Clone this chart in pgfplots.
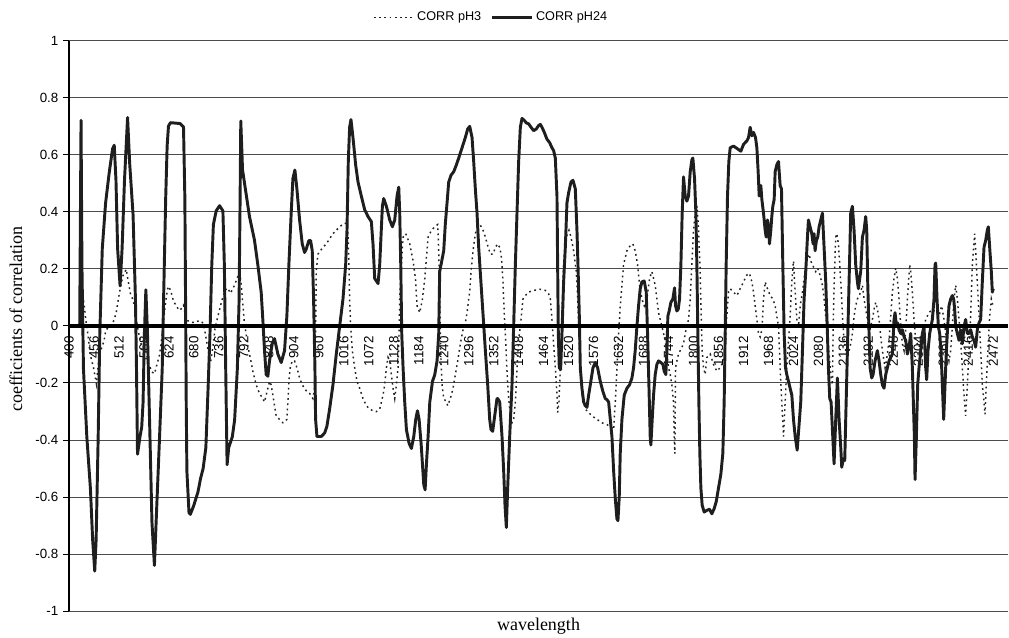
\documentclass[border=0pt]{standalone}
\usepackage{pgfplots}
\pgfplotsset{compat=1.18}
\usepackage{fontspec}
\setmainfont{Liberation Sans}
\newfontfamily\timesfont{Liberation Serif}
\definecolor{solidc}{HTML}{1E1E1E}
\definecolor{dotc}{HTML}{222222}
\begin{document}
\begin{tikzpicture}
\begin{axis}[
  scale only axis, width=704.25pt, height=427.9pt,
  xmin=400, xmax=2505, ymin=-1, ymax=1,
  axis x line*=middle, axis y line*=left,
  hide obscured x ticks=false,
  every axis x label/.style={at={(axis description cs:0.5,0)}, anchor=center, yshift=-11.5pt},
  every axis y label/.style={at={(axis description cs:0,0.5)}, xshift=-39.75pt, yshift=5pt, rotate=90, anchor=center},
  xlabel={wavelength}, ylabel={coefficients of correlation},
  label style={font=\timesfont\fontsize{13.5}{16}\selectfont},
  xtick={400,456,512,568,624,680,736,792,848,904,960,1016,1072,1128,1184,1240,1296,1352,1408,1464,1520,1576,1632,1688,1744,1800,1856,1912,1968,2024,2080,2136,2192,2248,2304,2360,2416,2472},
  xtick style={draw=none},
  x tick label style={rotate=90, anchor=east, font=\fontsize{10}{12}\selectfont},
  ytick={-1,-0.8,-0.6,-0.4,-0.2,0,0.2,0.4,0.6,0.8,1},
  y tick label style={font=\fontsize{10}{12}\selectfont},
  /pgf/number format/assume math mode=true,
  /pgf/number format/1000 sep={},
  tick align=outside, major tick length=4.5pt,
  ytick style={black, line width=0.6pt},
  ymajorgrids, grid style={black!70, line width=0.6pt},
  axis line style={black, line width=0.9pt},
  legend style={at={(0.45,1)}, anchor=south, yshift=9pt, draw=none, fill=none,
    legend columns=2, font=\fontsize{9.5}{11}\selectfont,
    /tikz/every even column/.append style={column sep=5pt}},
  legend image code/.code={\draw[#1] (0cm,0cm) -- (1.05cm,0cm);},
]
\coordinate (bl) at (axis description cs:0,0);
\coordinate (tr) at (axis description cs:1,1);
\addplot[dotc, line width=1.1pt, dash pattern=on 1.3pt off 2.6pt] coordinates {
(400,0)(422,0)(432.4,0.09)(434.7,0.066)(437.8,0.018)(442.4,-0.03)(447.7,-0.102)(455.4,-0.15)(461.5,-0.204)(466.9,-0.114)(473,-0.078)(478.4,-0.054)(482.2,-0.018)(489.9,0)(497.6,0.006)(505.3,0.042)(512.9,0.114)(520.6,0.174)(528.3,0.198)(532.1,0.162)(537.5,0.114)(543.6,0.09)(547.4,0.066)(551.3,0.018)(555.1,-0.018)(560.5,-0.054)(564.6,-0.09)(572.3,-0.114)(580,-0.138)(586.1,-0.162)(591.5,-0.168)(596.8,-0.138)(603,-0.102)(609.1,-0.03)(612.2,0.018)(615.3,0.066)(618.3,0.102)(622.2,0.138)(627.5,0.126)(633.7,0.09)(641.3,0.066)(649,0.054)(656.7,0.072)(660.5,0.042)(665.9,0.018)(675.9,0.012)(683.5,0.012)(691.2,0.018)(698.9,0.012)(700.7,0.006)(704.5,-0.018)(708.4,-0.054)(712.2,-0.09)(717.6,-0.126)(722.2,-0.078)(727.6,-0.006)(735.2,0.042)(742.9,0.09)(750.6,0.126)(755.9,0.132)(762.1,0.114)(769.7,0.138)(775.9,0.162)(781.3,0.186)(785.1,0.162)(792.8,0.018)(800.4,-0.066)(808.1,-0.126)
(812.1,-0.159)(819.6,-0.207)(827,-0.237)(834.5,-0.255)(838.3,-0.267)(842,-0.243)(845.8,-0.219)(849.5,-0.195)(853.2,-0.207)(857,-0.243)(860.7,-0.28)(864.5,-0.316)(872,-0.328)(879.4,-0.34)(885.4,-0.334)(888.4,-0.328)(890.7,-0.267)(892.9,-0.195)(895.9,-0.147)(900.4,-0.123)(905.6,-0.123)(910.9,-0.147)(916.9,-0.183)(922.9,-0.207)(928.1,-0.219)(933.3,-0.231)(939.3,-0.237)(946.8,-0.255)(950.5,-0.219)(952.8,-0.027)(954.3,0.19)(958,0.251)(963.3,0.263)(969.3,0.275)(976.7,0.287)(984.2,0.305)(991.7,0.323)(999.2,0.335)(1006.7,0.347)(1016.4,0.359)(1021.7,0.359)(1025.4,0.323)(1027.6,0.214)(1029.1,0.094)(1031.4,-0.002)(1035.1,-0.087)(1040.4,-0.147)(1045.6,-0.195)(1051.6,-0.219)(1059.1,-0.255)(1066.6,-0.28)(1074,-0.292)(1081.5,-0.298)(1089,-0.301)(1096.5,-0.292)(1104,-0.243)(1107.7,-0.207)(1111.5,-0.147)(1115.2,-0.111)(1119,-0.123)(1122.7,-0.171)(1126.4,-0.219)(1130.2,-0.255)(1133.9,-0.207)(1137.7,-0.147)(1139.9,-0.027)(1141.4,0.094)(1145.2,0.214)(1148.9,0.311)(1154.9,0.323)(1163.9,0.287)(1171.4,0.227)(1176.6,0.166)(1180.3,0.07)(1186.3,0.046)(1192.3,0.094)(1197.6,0.166)(1201.3,0.239)(1205,0.311)(1212.5,0.335)(1220,0.347)(1226.6,0.355)
(1228.8,0.263)(1231,0.094)(1232.5,-0.027)(1234,-0.123)(1236.3,-0.207)(1240,-0.255)(1246,-0.267)(1249,-0.28)(1254.9,-0.255)(1260.9,-0.219)(1266.1,-0.171)(1271.4,-0.123)(1277.3,-0.063)(1283.3,-0.014)(1288.5,0.01)(1292.3,0.046)(1296,0.094)(1298.3,0.118)(1301.2,0.19)(1305.7,0.263)(1310.9,0.323)(1316.2,0.347)(1322.1,0.353)(1328.1,0.335)(1333.4,0.311)(1338.6,0.281)(1344.6,0.251)(1350.5,0.251)(1355.8,0.275)(1361,0.287)(1365.5,0.275)(1368.5,0.251)(1370.7,0.214)(1372.9,0.154)(1374.4,0.094)(1375.9,0.034)(1378.2,-0.027)(1380.4,-0.111)(1383.4,-0.207)(1386.4,-0.267)(1389.4,-0.316)(1393.1,-0.34)(1396.8,-0.328)(1400.6,-0.267)(1404.3,-0.147)(1408,-0.051)(1413.3,0.022)(1417.7,0.094)(1423,0.106)(1430.4,0.118)(1441.6,0.124)(1456.6,0.128)(1467.8,0.124)(1475.2,0.112)(1479,0.094)(1482.7,0.022)(1486.4,-0.063)(1490.2,-0.147)(1493.9,-0.243)(1495.4,-0.304)(1498.4,-0.267)(1501.4,-0.147)(1505.1,0.034)(1508.8,0.214)(1514.8,0.311)(1520.8,0.335)(1525.3,0.311)(1531.2,0.263)(1537.2,0.19)(1540.2,0.094)(1543.2,-0.027)(1546.2,-0.147)(1550.7,-0.243)(1557.4,-0.292)(1564.9,-0.304)(1572.3,-0.316)(1583.5,-0.328)(1594.7,-0.34)(1605.9,-0.346)(1617.1,-0.358)(1620.9,-0.364)(1624.6,-0.267)(1628.3,-0.147)(1632.1,-0.027)(1635.8,0.07)(1639.5,0.142)
(1643.2,0.214)(1650.7,0.263)(1658.1,0.281)(1664.1,0.287)(1669.3,0.263)(1674.6,0.214)(1679,0.142)(1684.3,0.094)(1689.5,0.07)(1695.5,0.094)(1701.5,0.166)(1706.7,0.19)(1710.4,0.166)(1714.1,0.142)(1717.9,0.094)(1721.6,0.046)(1725.4,0.022)(1729.1,-0.002)(1732.8,-0.027)(1736.6,-0.051)(1740.3,-0.099)(1744,-0.147)(1747.8,-0.171)(1751.5,-0.207)(1755.2,-0.267)(1756.7,-0.388)(1758.2,-0.448)(1759.7,-0.147)(1762.7,-0.123)(1766.4,-0.099)(1770.2,-0.087)(1773.9,-0.075)(1777.6,-0.063)(1781.4,-0.027)(1785.1,-0.002)(1788.8,0.022)(1792.6,0.094)(1796.3,0.214)(1800,0.335)(1803.8,0.395)(1808.2,0.419)(1811.2,0.335)(1815,0.19)(1817.2,0.034)(1819.4,-0.087)(1822.4,-0.147)(1826.2,-0.171)(1829.9,-0.111)(1837.4,-0.099)(1844.8,-0.135)(1852.3,-0.159)(1859.8,-0.147)(1867.2,-0.123)(1871,-0.087)(1874.7,0.034)(1878.4,0.118)(1882.2,0.13)(1889.6,0.118)(1897.1,0.106)(1904.6,0.13)(1912.1,0.154)(1919.5,0.178)(1925.5,0.184)(1930.8,0.154)(1934.5,0.118)(1938.2,0.07)(1942,0.022)(1945.7,-0.027)(1949.4,-0.039)(1953.2,-0.014)(1956.9,0.094)(1960.6,0.154)(1965.8,0.13)(1971.8,0.106)(1977.8,0.094)(1983,0.07)(1986.7,0.034)(1990.5,-0.002)(1994.2,-0.147)(1997.9,-0.267)(2001.7,-0.388)(2005.4,-0.267)(2009.1,-0.147)(2012.9,-0.051)(2016.6,0.034)(2020.4,0.154)(2024.1,0.227)(2027.9,0.118)(2031.6,0.022)(2035.4,-0.002)(2039.1,0.07)
(2044.2,0.118)(2047.9,0.166)(2051.6,0.214)(2055.4,0.239)(2059.1,0.251)(2062.8,0.227)(2066.6,0.214)(2070.3,0.202)(2074,0.19)(2077.8,0.202)(2081.5,0.19)(2085.2,0.166)(2089,0.142)(2092.7,0.094)(2096.4,0.034)(2100.2,-0.027)(2103.9,-0.099)(2107.6,-0.171)(2111.4,-0.207)(2112.9,-0.027)(2114.4,0.094)(2116.6,0.214)(2118.8,0.311)(2121.1,0.323)(2124.8,0.287)(2127.8,0.214)(2130,0.154)(2132.3,0.094)(2134.5,0.022)(2137.5,-0.051)(2141.2,-0.087)(2145,-0.111)(2148.7,-0.087)(2152.4,-0.063)(2156.2,-0.027)(2159.9,0.034)(2163.6,0.07)(2167.4,0.094)(2171.1,0.106)(2174.8,0.118)(2178.6,0.142)(2182.3,0.094)(2186,0.058)(2189.8,0.022)(2193.5,-0.027)(2197.2,-0.002)(2201,0.022)(2204.7,0.058)(2208.4,0.082)(2212.2,0.058)(2215.9,0.022)(2219.7,-0.039)(2223.4,-0.087)(2227.1,-0.123)(2229.4,-0.147)(2232.3,-0.123)(2234.6,-0.099)(2238.3,-0.051)(2242.1,0.034)(2245.8,0.118)(2249.5,0.166)(2253.3,0.202)(2257,0.166)(2260.7,0.094)(2264.5,-0.002)(2268.2,-0.063)(2272,-0.087)(2275.7,-0.014)(2279.4,0.094)(2284.6,0.214)(2286.9,0.19)(2290.6,0.118)(2294.3,0.022)(2298.1,-0.051)(2305.5,-0.075)(2313,-0.027)(2320.5,0.022)(2328,0.046)(2335.4,0.058)(2342.9,0.046)(2350.3,0.034)(2356.3,0.07)(2361.5,0.022)(2365.3,-0.027)(2369,-0.087)(2372.7,-0.123)(2376.5,-0.087)(2380.2,-0.002)(2383.9,0.094)(2387.7,0.142)(2391.4,0.094)(2395.2,0.022)(2398.9,-0.051)(2402.6,-0.147)(2406.4,-0.243)(2410.1,-0.316)(2413.8,-0.207)(2417.6,-0.087)(2421.3,0.034)(2425,0.214)(2430.3,0.323)(2432.5,0.263)(2436.2,0.154)(2440,0.034)(2443.7,-0.087)(2447.4,-0.207)(2451.2,-0.267)(2453.4,-0.31)(2456.4,-0.207)(2460.1,-0.087)(2463.9,0.034)(2467.6,0.094)(2471.3,0.07)
};
\addlegendentry{CORR pH3}
\addplot[solidc, line width=2.2pt, line join=round] coordinates {
(400,0)(424,0)(427,0.72)(429,0.21)(432.4,-0.15)(440,-0.39)(448,-0.57)(453,-0.75)(457.7,-0.86)(460.8,-0.75)(465.4,-0.39)(469,-0.03)(474.6,0.27)(482,0.43)(490,0.535)(497.6,0.62)(501.4,0.633)(505.3,0.51)(509,0.27)(514.5,0.14)(519,0.27)(524.4,0.51)(531.3,0.73)(536,0.57)(543.6,0.39)(549,0.09)(551.3,-0.15)(553.6,-0.45)(559,-0.39)(563,-0.355)(566,-0.27)(569,-0.03)(572.3,0.126)(576,-0.03)(581.5,-0.39)(586,-0.69)(591.5,-0.84)(596.8,-0.63)(603,-0.39)(609,-0.15)(612,0.09)(616.8,0.45)(620,0.63)(623,0.70)(627.5,0.712)(649,0.709)(656.7,0.697)(659.7,0.45)(661.3,0.09)(662.8,-0.27)(664.3,-0.51)(669,-0.655)(672,-0.661)(679.7,-0.63)(689,-0.583)(695,-0.535)(700.7,-0.50)(706.8,-0.427)(712,-0.21)(716,-0.03)(720,0.21)(723.7,0.355)(730,0.403)(737.5,0.421)(745,0.403)(748.3,0.21)(751.3,-0.15)(754.4,-0.487)(758,-0.427)(766,-0.39)(771.3,-0.33)(777.4,-0.15)(781.3,0.09)(783.6,0.45)(785.1,0.718)(789,0.547)(800.4,0.427)
(804.6,0.383)(815.8,0.30)(823.3,0.214)(830.8,0.118)(834.5,0.022)(838.3,-0.087)(842,-0.171)(845.8,-0.177)(849.5,-0.123)(855.5,-0.063)(860.7,-0.045)(868.2,-0.099)(875.7,-0.129)(883.2,-0.087)(888.4,0.034)(892.9,0.214)(898.1,0.395)(901.9,0.516)(906.4,0.546)(910.9,0.48)(916.9,0.371)(922.9,0.287)(928.1,0.257)(931.8,0.269)(937.8,0.299)(941.6,0.299)(945.3,0.263)(948.3,0.094)(951.3,-0.147)(952.8,-0.328)(955.8,-0.388)(965.5,-0.388)(973,-0.376)(978.2,-0.352)(984.2,-0.292)(991.7,-0.207)(999.2,-0.099)(1006.7,-0.002)(1014.2,0.094)(1020.2,0.214)(1023.2,0.335)(1026.1,0.576)(1029.1,0.696)(1032.1,0.723)(1036.6,0.66)(1042.6,0.564)(1047.9,0.504)(1055.3,0.455)(1062.8,0.407)(1070.3,0.383)(1077.8,0.365)(1081.5,0.287)(1085.3,0.166)(1092.8,0.148)(1096.5,0.214)(1102.5,0.419)(1105.5,0.446)(1111.5,0.419)(1119,0.371)(1125,0.347)(1130.2,0.371)(1135.4,0.455)(1139.2,0.486)(1141.4,0.395)(1143.7,0.214)(1145.9,-0.027)(1148.9,-0.147)(1152.6,-0.267)(1156.4,-0.364)(1162.4,-0.412)(1167.6,-0.43)(1172.9,-0.388)(1177.3,-0.328)(1181.1,-0.298)(1184.8,-0.328)(1189.3,-0.412)(1192.3,-0.484)(1195.3,-0.557)(1198.3,-0.575)(1201.3,-0.484)(1205,-0.388)(1208.8,-0.267)(1214.8,-0.195)(1220,-0.171)
(1225.1,-0.123)(1228.8,-0.027)(1231,0.19)(1234,0.214)(1240,0.263)(1243.7,0.359)(1247.5,0.431)(1251.2,0.504)(1256.4,0.528)(1262.4,0.54)(1268.4,0.564)(1273.6,0.588)(1281.1,0.624)(1288.5,0.66)(1293.8,0.69)(1298.3,0.699)(1303.5,0.66)(1307.2,0.576)(1310.9,0.48)(1314.7,0.395)(1318.4,0.275)(1325.9,0.094)(1333.4,-0.087)(1338.6,-0.207)(1343.1,-0.328)(1346,-0.364)(1349.8,-0.37)(1354.3,-0.316)(1359.5,-0.255)(1361,-0.255)(1365.5,-0.267)(1370.7,-0.388)(1374.4,-0.508)(1377.4,-0.629)(1380.4,-0.707)(1383.4,-0.569)(1387.9,-0.388)(1393.1,-0.207)(1396.8,-0.002)(1400.6,0.214)(1404.3,0.395)(1408,0.576)(1411.8,0.696)(1415.5,0.727)(1420.7,0.72)(1425.2,0.711)(1430.4,0.708)(1435.7,0.696)(1441.6,0.684)(1447.6,0.69)(1452.8,0.702)(1456.6,0.706)(1460.3,0.696)(1465.5,0.678)(1471.5,0.654)(1477.5,0.642)(1482.7,0.624)(1486.4,0.614)(1490.2,0.588)(1493.9,0.455)(1495.4,0.214)(1496.9,-0.027)(1499.1,-0.147)(1502.1,-0.153)(1505.1,-0.027)(1508.8,0.154)(1512.6,0.275)(1516.3,0.431)(1520.1,0.467)(1525.3,0.504)(1529.8,0.51)(1535,0.48)(1538.7,0.335)(1541,0.214)(1544,0.034)(1546.2,-0.147)(1549.9,-0.219)(1553.7,-0.267)(1557.4,-0.28)(1561.1,-0.286)(1564.9,-0.243)(1568.6,-0.207)(1574.6,-0.147)(1579.8,-0.129)(1585,-0.147)(1591,-0.195)(1597,-0.231)(1602.2,-0.255)(1605.9,-0.259)(1609.7,-0.267)(1613.4,-0.328)(1617.1,-0.388)(1620.9,-0.508)(1624.6,-0.605)(1628.3,-0.677)(1630.6,-0.683)(1633.5,-0.6)
(1635.7,-0.448)(1639.5,-0.328)(1644.7,-0.243)(1650.7,-0.219)(1656.6,-0.207)(1661.9,-0.183)(1665.6,-0.147)(1669.3,-0.087)(1673.1,-0.002)(1676.8,0.07)(1680.5,0.13)(1684.3,0.154)(1689.5,0.157)(1694,0.118)(1697,-0.027)(1700,-0.207)(1702.9,-0.388)(1704.4,-0.418)(1707.4,-0.328)(1710.4,-0.243)(1714.1,-0.171)(1717.9,-0.135)(1721.6,-0.123)(1726.8,-0.129)(1731.3,-0.135)(1734.3,-0.159)(1738,-0.171)(1740.3,-0.087)(1742.5,0.034)(1745.5,0.052)(1749.2,0.082)(1753.7,0.094)(1757.5,0.133)(1759.7,0.07)(1762.7,0.052)(1765.7,0.058)(1768.7,0.094)(1771.7,0.214)(1774.6,0.395)(1777.6,0.522)(1781.4,0.455)(1785.1,0.437)(1788.8,0.455)(1792.6,0.54)(1796.3,0.582)(1798.5,0.588)(1802.3,0.516)(1805.3,0.395)(1807.5,0.214)(1809.7,-0.027)(1812,-0.267)(1814.2,-0.448)(1816.5,-0.569)(1819.4,-0.629)(1823.9,-0.653)(1829.9,-0.647)(1835.9,-0.643)(1841.1,-0.659)(1846.3,-0.641)(1850.8,-0.617)(1856,-0.569)(1861.3,-0.52)(1865.7,-0.448)(1868.7,-0.267)(1871,-0.027)(1873.2,0.214)(1876.2,0.455)(1879.2,0.576)(1882.2,0.624)(1889.6,0.63)(1897.1,0.622)(1906.1,0.612)(1912.1,0.636)(1919.5,0.648)(1923.3,0.66)(1927,0.696)(1930.8,0.666)(1934.5,0.678)(1939,0.66)(1942,0.624)(1944.9,0.54)(1947.2,0.455)(1949.4,0.48)(1950.9,0.492)(1953.2,0.443)(1956.9,0.395)(1960.6,0.335)(1962.8,0.311)(1965.8,0.371)(1968.1,0.347)(1970.3,0.287)(1973.3,0.335)(1975.5,0.383)(1977.8,0.419)(1980.8,0.443)(1983,0.54)(1986.7,0.564)(1990.5,0.576)(1994.2,0.492)(1997.2,0.48)(2000.2,0.214)(2003.2,-0.027)(2006.2,-0.147)(2009.1,-0.171)(2012.9,-0.195)(2016.6,-0.219)(2020.4,-0.243)(2024.1,-0.328)(2027.9,-0.388)(2032.4,-0.436)
(2040.4,-0.267)(2044.2,-0.087)(2047.9,0.094)(2051.6,0.19)(2055.4,0.311)(2057.6,0.371)(2061.3,0.347)(2065.1,0.323)(2068.1,0.287)(2070.3,0.323)(2072.5,0.263)(2075.5,0.299)(2078.5,0.311)(2081.5,0.347)(2085.2,0.371)(2089,0.395)(2092.7,0.275)(2096.4,0.154)(2100.2,-0.027)(2102.4,-0.147)(2105.4,-0.255)(2108.4,-0.267)(2111.4,-0.364)(2115.1,-0.484)(2118.8,-0.328)(2122.6,-0.183)(2126.3,-0.328)(2130,-0.424)(2132.3,-0.496)(2136,-0.466)(2139,-0.472)(2141.2,-0.328)(2145,-0.087)(2148.7,0.154)(2152.4,0.395)(2156.2,0.419)(2159.9,0.335)(2163.6,0.214)(2167.4,0.154)(2169.6,0.13)(2172.6,0.166)(2174.8,0.19)(2178.6,0.311)(2182.3,0.335)(2186,0.383)(2188.3,0.335)(2190.5,0.154)(2193.5,-0.027)(2195.8,-0.147)(2199.5,-0.183)(2202.5,-0.171)(2207,-0.123)(2212.2,-0.087)(2215.9,-0.123)(2219.7,-0.171)(2223.4,-0.207)(2227.1,-0.219)(2230.9,-0.171)(2234.6,-0.147)(2238.3,-0.123)(2245.8,-0.099)(2249.5,0.022)(2251.8,0.046)(2254.8,-0.002)(2257.7,0.01)(2260.7,-0.014)(2264.5,-0.027)(2268.2,-0.014)(2272,-0.039)(2275.7,-0.051)(2279.4,-0.099)(2283.1,-0.075)(2286.9,-0.027)(2290.6,-0.147)(2292.8,-0.267)(2295.1,-0.388)(2296.6,-0.539)(2299.6,-0.388)(2302.5,-0.207)(2305.5,-0.147)(2309.3,-0.087)(2313,-0.027)(2316.7,-0.002)(2320.5,-0.147)(2322.7,-0.189)(2325.7,-0.087)(2329.4,-0.027)(2335.4,0.022)(2339.1,0.094)(2341.4,0.214)(2342.9,0.22)(2345.9,0.094)(2348.8,-0.002)(2351.8,-0.027)(2354.8,-0.087)(2357.8,-0.207)(2360.8,-0.328)(2363.8,-0.207)(2366.8,-0.087)(2369.8,-0.002)(2372.7,0.07)(2376.5,0.094)(2380.2,0.106)(2383.2,0.094)(2385.4,0.058)(2387.7,-0.002)(2391.4,-0.027)(2395.2,-0.051)(2398.9,-0.014)(2402.6,-0.063)(2406.4,-0.002)(2410.1,0.022)(2413.8,-0.027)(2417.6,-0.027)(2421.3,-0.014)(2425,-0.039)(2428.8,-0.051)(2432.5,-0.075)(2436.2,-0.014)(2440,0.01)(2443.7,0.022)(2447.4,0.154)(2451.2,0.275)(2454.9,0.299)(2458.6,0.335)(2460.9,0.347)(2463.9,0.275)(2467.6,0.19)(2469.8,0.118)(2472.1,0.13)
};
\addlegendentry{CORR pH24}
\addplot[black, line width=3pt, forget plot] coordinates {(400,0)(2505,0)};
\end{axis}
\pgfresetboundingbox
\path[use as bounding box] ([xshift=-51.75pt,yshift=-19.5pt]bl) rectangle ([xshift=0.75pt,yshift=30.4pt]tr);
\end{tikzpicture}
\end{document}
